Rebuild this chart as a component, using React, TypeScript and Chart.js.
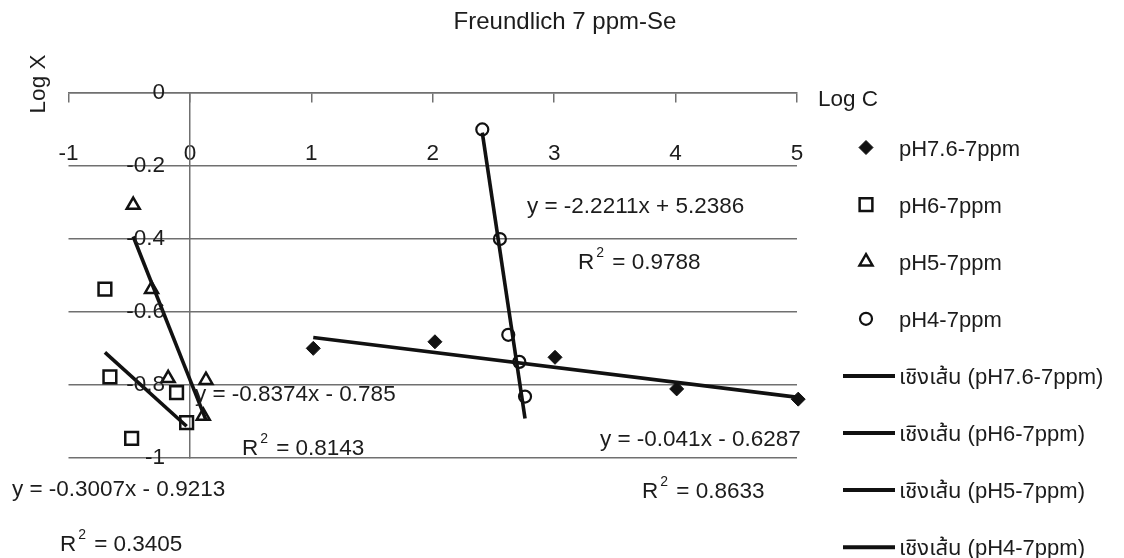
import React, { useEffect, useRef } from 'react';
import { Chart, registerables } from 'chart.js';
import { drawPoint } from 'chart.js/helpers';

Chart.register(...registerables);

const FONT = "'Liberation Sans', Arial, Helvetica, 'Noto Sans Thai', Tahoma, sans-serif";
const TEXT = '#1c1c1c';
const INK = '#111111';
const GRID = '#707070';

const chartTitle = 'Freundlich 7 ppm-Se';

// Freundlich isotherm data: log C (x) against log X (y) for each pH
const seriesNames = ['pH7.6-7ppm', 'pH6-7ppm', 'pH5-7ppm', 'pH4-7ppm'];
const ph76LogC = [1.016, 2.018, 3.007, 4.009, 5.01];
const ph76LogX = [-0.7, -0.682, -0.7245, -0.811, -0.839];
const ph6LogC = [-0.7, -0.659, -0.48, -0.11, -0.027];
const ph6LogX = [-0.538, -0.778, -0.946, -0.821, -0.903];
const ph5LogC = [-0.467, -0.316, -0.179, 0.11, 0.132];
const ph5LogX = [-0.308, -0.538, -0.782, -0.885, -0.787];
const ph4LogC = [2.408, 2.553, 2.622, 2.713, 2.76];
const ph4LogX = [-0.101, -0.401, -0.663, -0.737, -0.832];

// Linear trendlines (same order as seriesNames)
const trendSlopes = [-0.041, -0.3007, -0.8374, -2.2211];
const trendIntercepts = [-0.6287, -0.9213, -0.785, 5.2386];
const trendR2 = [0.8633, 0.3405, 0.8143, 0.9788];
const trendPrefix = 'เชิงเส้น';

// Axis ticks
const xTickValues = [-1, 0, 1, 2, 3, 4, 5];
const xTickLabels = ['-1', '0', '1', '2', '3', '4', '5'];
const yTickValues = [0, -0.2, -0.4, -0.6, -0.8, -1];
const yTickLabels = ['0', '-0.2', '-0.4', '-0.6', '-0.8', '-1'];

// Where each equation / R² text sits (left edge, vertical middle), in axis units
const equationAnchors = [
  { eq: [3.377, -0.951], r2: [3.723, -1.093] },
  { eq: [-1.466, -1.0875], r2: [-1.071, -1.238] },
  { eq: [0.041, -0.828], r2: [0.428, -0.975] },
  { eq: [2.776, -0.313], r2: [3.196, -0.4665] },
];

const markerStyles = [
  { pointStyle: 'rectRot', radius: 7, fill: INK, width: 1 },
  { pointStyle: 'rect', radius: 9, fill: 'rgba(0,0,0,0)', width: 2.5 },
  { pointStyle: 'triangle', radius: 7.5, fill: 'rgba(0,0,0,0)', width: 2.5 },
  { pointStyle: 'circle', radius: 6, fill: 'rgba(0,0,0,0)', width: 2.2 },
];

const xs = [ph76LogC, ph6LogC, ph5LogC, ph4LogC];
const ys = [ph76LogX, ph6LogX, ph5LogX, ph4LogX];

const fmt = (v: number) => String(v);
const equationText = (i: number) => {
  const b = trendIntercepts[i];
  return `y = ${fmt(trendSlopes[i])}x ${b < 0 ? '-' : '+'} ${fmt(Math.abs(b))}`;
};

const pointDatasets = seriesNames.map((name, i) => ({
  label: name,
  data: xs[i].map((x, k) => ({ x, y: ys[i][k] })),
  showLine: false,
  pointStyle: markerStyles[i].pointStyle,
  pointRadius: markerStyles[i].radius,
  pointBackgroundColor: markerStyles[i].fill,
  pointBorderColor: INK,
  pointBorderWidth: markerStyles[i].width,
  clip: false,
  order: 1,
}));

const trendDatasets = seriesNames.map((name, i) => {
  const lo = Math.min(...xs[i]);
  const hi = Math.max(...xs[i]);
  return {
    label: `${trendPrefix} (${name})`,
    data: [lo, hi].map((x) => ({ x, y: trendSlopes[i] * x + trendIntercepts[i] })),
    showLine: true,
    borderColor: INK,
    borderWidth: 3.6,
    pointRadius: 0,
    clip: false,
    order: 0,
  };
});

const drawR2 = (ctx: CanvasRenderingContext2D, text: string, x: number, y: number) => {
  ctx.textAlign = 'left';
  ctx.textBaseline = 'middle';
  ctx.font = `22.5px ${FONT}`;
  ctx.fillText('R', x, y);
  const wR = ctx.measureText('R').width;
  ctx.font = `14px ${FONT}`;
  ctx.fillText('2', x + wR + 2, y - 10);
  const w2 = ctx.measureText('2').width;
  ctx.font = `22.5px ${FONT}`;
  ctx.fillText(` = ${text}`, x + wR + w2 + 4, y);
};

const labelPlugin = {
  id: 'isothermLabels',
  afterDraw(chart: any) {
    const { ctx } = chart;
    const xs_ = chart.scales.x;
    const ys_ = chart.scales.y;
    ctx.save();
    ctx.fillStyle = TEXT;

    // chart title
    ctx.font = `24px ${FONT}`;
    ctx.textAlign = 'center';
    ctx.textBaseline = 'middle';
    ctx.fillText(chartTitle, 565, 22);

    ctx.font = `22.5px ${FONT}`;

    // y tick labels, right-aligned to the left of the vertical axis
    const axisX = xs_.getPixelForValue(0);
    ctx.textAlign = 'right';
    ctx.textBaseline = 'middle';
    yTickValues.forEach((v, i) => ctx.fillText(yTickLabels[i], axisX - 25, ys_.getPixelForValue(v)));

    // axis titles
    ctx.textAlign = 'left';
    ctx.fillText('Log C', xs_.right + 21, ys_.top + 7);
    ctx.save();
    ctx.translate(xs_.left - 29.5, ys_.top - 8.5);
    ctx.rotate(-Math.PI / 2);
    ctx.textAlign = 'center';
    ctx.fillText('Log X', 0, 0);
    ctx.restore();

    // trendline equations
    equationAnchors.forEach((a, i) => {
      ctx.textAlign = 'left';
      ctx.textBaseline = 'middle';
      ctx.font = `22.5px ${FONT}`;
      ctx.fillText(equationText(i), xs_.getPixelForValue(a.eq[0]), ys_.getPixelForValue(a.eq[1]));
      drawR2(ctx, fmt(trendR2[i]), xs_.getPixelForValue(a.r2[0]), ys_.getPixelForValue(a.r2[1]));
    });

    // legend
    const rowY0 = 147.5;
    const rowStep = 57.1;
    const markerX = 866;
    const textX = 899;
    chart.data.datasets.forEach((ds: any, i: number) => {
      const yRow = rowY0 + i * rowStep;
      if (ds.showLine) {
        ctx.strokeStyle = ds.borderColor;
        ctx.lineWidth = 4;
        ctx.beginPath();
        ctx.moveTo(843, yRow);
        ctx.lineTo(895, yRow);
        ctx.stroke();
      } else {
        ctx.fillStyle = ds.pointBackgroundColor;
        ctx.strokeStyle = ds.pointBorderColor;
        ctx.lineWidth = ds.pointBorderWidth;
        drawPoint(ctx, { pointStyle: ds.pointStyle, radius: ds.pointRadius, rotation: 0, borderWidth: ds.pointBorderWidth }, markerX, yRow);
      }
      ctx.fillStyle = TEXT;
      ctx.font = `22px ${FONT}`;
      ctx.textAlign = 'left';
      ctx.textBaseline = 'middle';
      ctx.fillText(ds.label, textX, yRow + 2);
    });
    ctx.restore();
  },
};

export default function App() {
  const ref = useRef<HTMLCanvasElement>(null);
  useEffect(() => {
    const chart = new Chart(ref.current as HTMLCanvasElement, {
      type: 'scatter',
      data: { datasets: [...pointDatasets, ...trendDatasets] as any },
      options: {
        responsive: false,
        animation: false,
        layout: { padding: { left: 68.5, right: 327, top: 92.5, bottom: 100 } },
        plugins: {
          legend: { display: false },
          tooltip: { enabled: false },
          title: { display: false },
        },
        scales: {
          x: {
            type: 'linear',
            position: { y: 0 } as any,
            min: -1,
            max: 5,
            afterBuildTicks: (scale: any) => {
              scale.ticks = xTickValues.map((value) => ({ value }));
            },
            grid: { drawOnChartArea: false, drawTicks: true, tickLength: 9, color: GRID, lineWidth: 1.5 },
            border: { display: true, color: GRID, width: 1.5 },
            ticks: {
              color: TEXT,
              font: { family: FONT, size: 22.5 },
              padding: 38.5,
              maxRotation: 0,
              autoSkip: false,
              callback: (value: any) => xTickLabels[xTickValues.indexOf(Number(value))],
            },
          },
          y: {
            type: 'linear',
            position: { x: 0 } as any,
            min: -1,
            max: 0,
            afterBuildTicks: (scale: any) => {
              scale.ticks = yTickValues.map((value) => ({ value }));
            },
            grid: { drawOnChartArea: true, drawTicks: false, color: GRID, lineWidth: 1.5 },
            border: { display: true, color: GRID, width: 1.5 },
            ticks: { display: false },
          },
        },
      },
      plugins: [labelPlugin],
    });
    return () => chart.destroy();
  }, []);

  return (
    <div style={{ position: 'absolute', left: 0, top: 0, width: 1124, height: 558, background: '#ffffff' }}>
      <canvas ref={ref} width={1124} height={558} style={{ display: 'block', width: 1124, height: 558 }} />
    </div>
  );
}
